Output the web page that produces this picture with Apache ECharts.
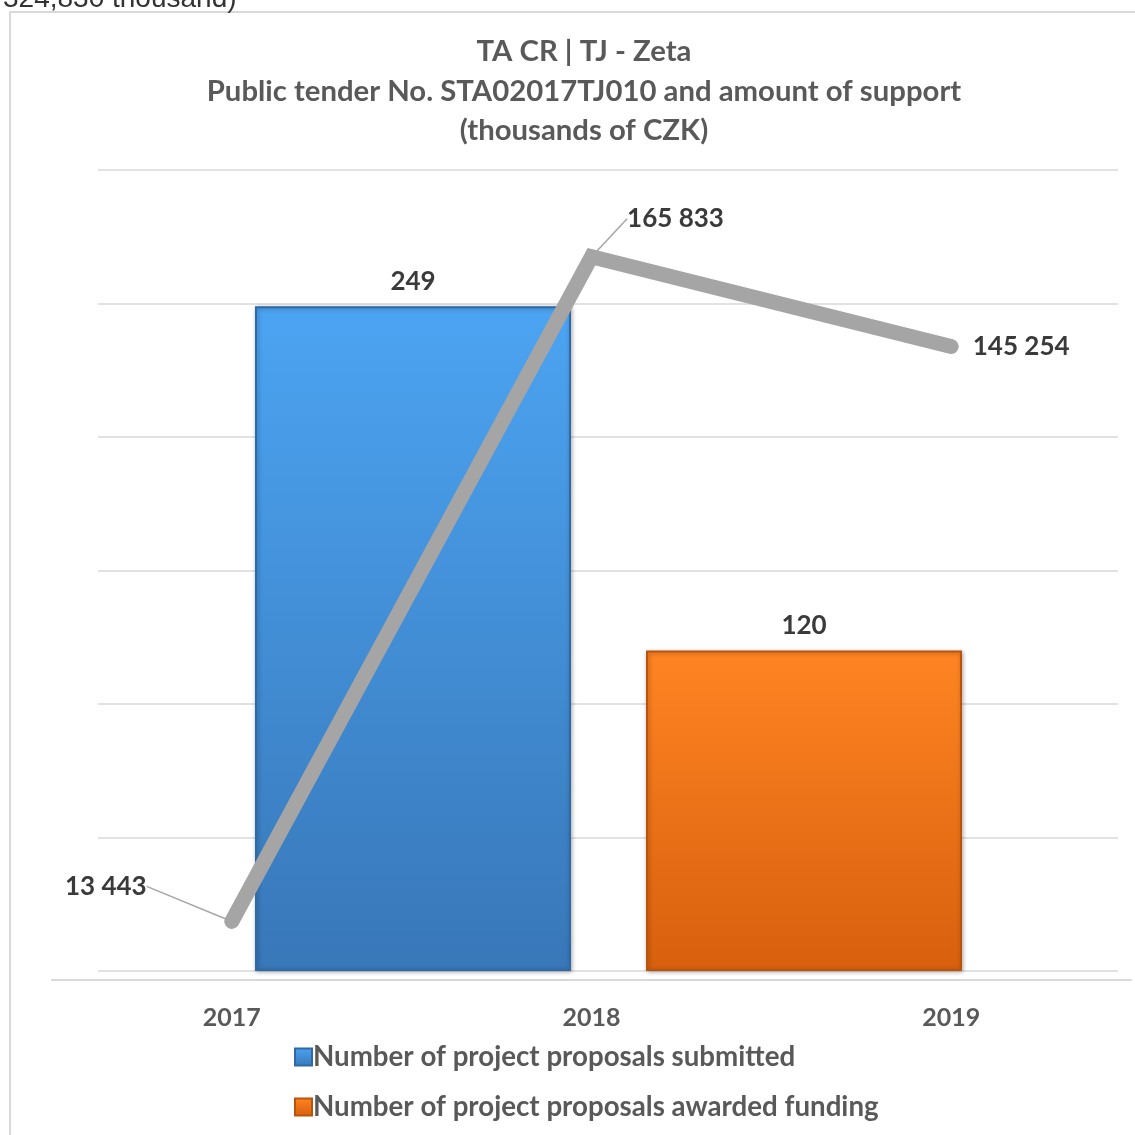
<!DOCTYPE html>
<html>
<head>
<meta charset="utf-8">
<script src="https://cdn.jsdelivr.net/npm/echarts@6/dist/echarts.min.js"></script>
<style>
  html, body { margin: 0; padding: 0; background: #fff; }
  #chart { width: 1135px; height: 1135px; }
</style>
</head>
<body>
<div id="chart"></div>
<script>
(function () {
  'use strict';

  // 데이터
  const years = ['2017', '2018', '2019'];
  const supportAmount = [13443, 165833, 145254];   // thousands of CZK (line)
  const barNames = ['Number of project proposals submitted', 'Number of project proposals awarded funding'];
  const barValues = [249, 120];
  const barSlots = ['submitted', 'awarded'];

  const FONT = 'Lato, "Open Sans", sans-serif';
  const TXT = '#595959';

  function grad(top, bottom) {
    return new echarts.graphic.LinearGradient(0, 0, 0, 1, [
      { offset: 0, color: top }, { offset: 1, color: bottom }
    ]);
  }
  const barColors = [grad('#4CA4F2', '#3877B8'), grad('#FF8422', '#D8600E')];
  const barBorders = ['#2F6AA6', '#B9540C'];

  // 라벨 위치 (선 시리즈)
  const lineLabelPos = [
    { dx: -126, dy: -35 },
    { dx: 84, dy: -38 },
    { dx: 70, dy: 0 }
  ];
  const lineLeader = [true, true, false];

  const chart = echarts.init(document.getElementById('chart'));

  const barSeries = barNames.map((name, i) => ({
    name: name,
    type: 'bar',
    xAxisIndex: 2,
    yAxisIndex: 2,
    barWidth: 316,
    barGap: '-100%',
    data: barValues.map((v, j) => (j === i ? v : '-')),
    itemStyle: {
      color: barColors[i],
      borderColor: barBorders[i],
      borderWidth: 2,
      shadowColor: 'rgba(0,0,0,0.3)',
      shadowBlur: 4,
      shadowOffsetX: 1,
      shadowOffsetY: 1
    },
    label: {
      show: true,
      position: 'top',
      distance: 12,
      fontFamily: FONT,
      fontWeight: 'bold',
      fontSize: 26,
      color: '#3a3a3a'
    },
    z: 2
  }));

  chart.setOption({
    backgroundColor: '#fff',
    animation: false,
    title: {
      text: 'TA CR | TJ - Zeta\nPublic tender No. STA02017TJ010 and amount of support\n(thousands of CZK)',
      left: 579,
      textAlign: 'center',
      top: 27,
      textStyle: { fontFamily: FONT, fontWeight: 'bold', fontSize: 29.3, lineHeight: 39.5, color: TXT }
    },
    legend: {
      orient: 'vertical',
      left: 289,
      top: 1038,
      icon: 'rect',
      itemWidth: 17,
      itemHeight: 17,
      itemGap: 22,
      data: barNames,
      textStyle: { fontFamily: FONT, fontWeight: 'bold', fontSize: 27.7, color: TXT, padding: [0, 0, 0, -4] }
    },
    graphic: [
      {
        type: 'rect',
        shape: { x: 10, y: 12, width: 1135, height: 1135 },
        style: { fill: 'none', stroke: '#d9d9d9', lineWidth: 2 },
        silent: true
      },
      {
        type: 'text',
        left: 3,
        top: -15,
        style: { text: '324,830 thousand)', font: '28px "Liberation Sans", Arial, sans-serif', fill: '#333' },
        silent: true
      }
    ],
    grid: [
      { left: 98, right: 17, top: 170, bottom: 164 },
      { left: 52, right: 4, top: 195, bottom: 155 },
      { left: 217.5, right: 135.5, top: 170, bottom: 164 }
    ],
    xAxis: [
      { type: 'category', gridIndex: 0, data: barSlots, show: false },
      {
        type: 'category', gridIndex: 1, data: years, boundaryGap: true,
        axisLine: { show: true, lineStyle: { color: '#d9d9d9', width: 2 } },
        axisTick: { show: false },
        axisLabel: { margin: 25, fontFamily: FONT, fontWeight: 'bold', fontSize: 25, color: TXT }
      },
      { type: 'category', gridIndex: 2, data: barSlots, show: false }
    ],
    yAxis: [
      {
        type: 'value', gridIndex: 0, min: 0, max: 300, interval: 50,
        axisLine: { show: false }, axisTick: { show: false }, axisLabel: { show: false },
        splitLine: { show: true, lineStyle: { color: '#d9d9d9', width: 1.5 } }
      },
      {
        type: 'value', gridIndex: 1, min: 0, max: 180000, show: false,
        splitLine: { show: false }
      },
      {
        type: 'value', gridIndex: 2, min: 0, max: 300, interval: 50, show: false,
        splitLine: { show: false }
      }
    ],
    series: barSeries.concat([{
      name: 'Amount of support',
      type: 'line',
      xAxisIndex: 1,
      yAxisIndex: 1,
      data: supportAmount.map((v, i) => ({ value: v, labelLine: { show: lineLeader[i] } })),
      showSymbol: true,
      symbol: 'circle',
      symbolSize: 1,
      itemStyle: { color: '#A5A5A5' },
      lineStyle: { color: '#A5A5A5', width: 15, cap: 'round', join: 'miter' },
      label: {
        show: true,
        position: 'inside',
        fontFamily: FONT,
        fontWeight: 'bold',
        fontSize: 26,
        color: '#3a3a3a',
        formatter: p => String(p.value).replace(/\B(?=(\d{3})+(?!\d))/g, ' ')
      },
      labelLine: { show: true, lineStyle: { color: '#a6a6a6', width: 1.5 } },
      labelLayout: p => lineLabelPos[p.dataIndex],
      z: 5
    }])
  });
})();
</script>
</body>
</html>
